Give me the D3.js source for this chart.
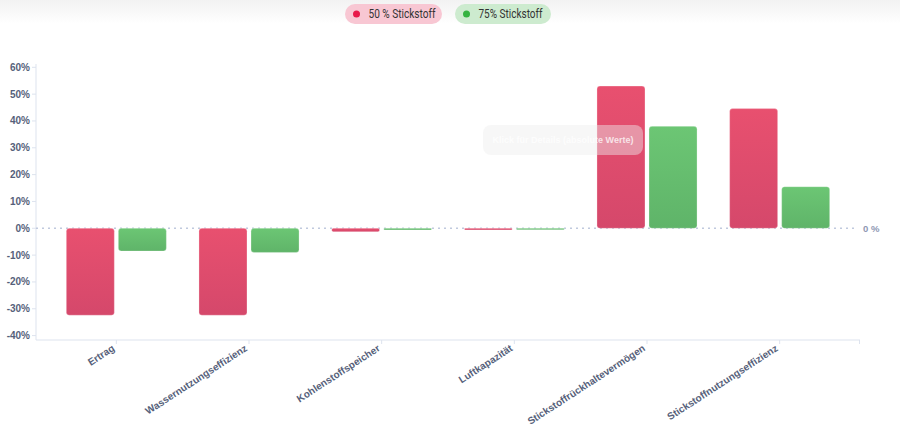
<!DOCTYPE html>
<html><head><meta charset="utf-8">
<script src="https://cdn.jsdelivr.net/npm/d3@7"></script>
<style>
html,body{margin:0;padding:0;background:#fff;}
svg{display:block;font-family:"Liberation Sans",Arial,sans-serif;}
</style></head>
<body>
<svg id="chart" width="900" height="440"></svg>
<script>
const categories = ["Ertrag","Wassernutzungseffizienz","Kohlenstoffspeicher","Luftkapazität","Stickstoffrückhaltevermögen","Stickstoffnutzungseffizienz"];
const seriesNames = ["50 % Stickstoff","75% Stickstoff"];
const values50 = [-32.4,-32.4,-1.3,-0.6,53.0,44.6];
const values75 = [-8.5,-9.0,-0.6,-0.5,38.0,15.5];
const yTicks = [60,50,40,30,20,10,0,-10,-20,-30,-40];

const svg = d3.select("#chart");
const defs = svg.append("defs");

// top fade
const tg = defs.append("linearGradient").attr("id","topfade").attr("x1",0).attr("x2",0).attr("y1",0).attr("y2",1);
tg.append("stop").attr("offset","0%").attr("stop-color","#f2f2f2");
tg.append("stop").attr("offset","100%").attr("stop-color","#ffffff");
svg.append("rect").attr("x",0).attr("y",0).attr("width",900).attr("height",24).attr("fill","url(#topfade)");

const colors = [{top:"#e8506f",bot:"#d5486b",id:"gRed",dot:"#e8194a",pill:"#f8c7d3"},
                {top:"#6cc674",bot:"#5fb469",id:"gGreen",dot:"#35b341",pill:"#cdebcf"}];
colors.forEach(c=>{
  const g = defs.append("linearGradient").attr("id",c.id).attr("x1",0).attr("x2",0).attr("y1",0).attr("y2",1);
  g.append("stop").attr("offset","0%").attr("stop-color",c.top);
  g.append("stop").attr("offset","100%").attr("stop-color",c.bot);
});

const x = d3.scaleBand().domain(categories).range([50,846]).padding(0);
const groupPad = 16.3;
const xs = d3.scaleBand().domain(seriesNames).range([groupPad, x.bandwidth()-groupPad]).paddingInner(0.0769).paddingOuter(0);
const y = d3.scaleLinear().domain([-40,60]).range([335.6,67.3]);

const axisColor = "#dde3ee";
const labelColor = "#565f7a";

// y axis
svg.append("line").attr("x1",36).attr("x2",36).attr("y1",64).attr("y2",340).attr("stroke",axisColor);
const yg = svg.append("g");
yTicks.forEach(t=>{
  yg.append("line").attr("x1",32).attr("x2",36).attr("y1",y(t)).attr("y2",y(t)).attr("stroke",axisColor);
  yg.append("text").attr("x",30).attr("y",y(t)).attr("dy","0.35em").attr("text-anchor","end")
    .attr("font-size",10).attr("font-weight","bold").attr("fill",labelColor).text(t+"%");
});

// zero line
svg.append("line").attr("x1",36).attr("x2",858).attr("y1",y(0)).attr("y2",y(0))
  .attr("stroke","#c0c9de").attr("stroke-width",1.4).attr("stroke-dasharray","2,4");
svg.append("text").attr("x",863).attr("y",y(0)).attr("dy","0.35em").attr("font-size",9.5)
  .attr("font-weight","bold").attr("fill","#8e97b3").text("0 %");

// x axis
svg.append("line").attr("x1",36).attr("x2",860).attr("y1",340).attr("y2",340).attr("stroke",axisColor);
categories.forEach(c=>{
  const cx = x(c)+x.bandwidth()/2;
  svg.append("line").attr("x1",cx).attr("x2",cx).attr("y1",340).attr("y2",344).attr("stroke",axisColor);
});
svg.append("line").attr("x1",859.5).attr("x2",859.5).attr("y1",340).attr("y2",344).attr("stroke",axisColor);
categories.forEach(c=>{
  const cx = x(c)+x.bandwidth()/2;
  svg.append("text").attr("transform",`translate(${cx-1},${350}) rotate(-33)`)
    .attr("text-anchor","end").attr("font-size",10).attr("font-weight","bold").attr("fill",labelColor).text(c);
});

// bars
const all = [values50, values75];
const barG = svg.append("g");
categories.forEach((c,i)=>{
  all.forEach((vals,s)=>{
    const v = vals[i];
    const y0 = y(Math.max(0,v)), y1 = y(Math.min(0,v));
    const h = Math.max(1.5, y1-y0);
    barG.append("rect").attr("x",x(c)+xs(seriesNames[s])).attr("y",y0)
      .attr("width",xs.bandwidth()).attr("height",h)
      .attr("rx",Math.min(3,h/2)).attr("fill",`url(#${colors[s].id})`)
      .attr("stroke","rgba(255,255,255,0.35)").attr("stroke-width",0.8);
  });
});

// faint hint box
const hint = svg.append("g");
hint.append("rect").attr("x",483).attr("y",125).attr("width",160).attr("height",30).attr("rx",8)
  .attr("fill","rgba(238,238,238,0.45)");
hint.append("text").attr("x",563).attr("y",140).attr("dy","0.35em").attr("text-anchor","middle")
  .attr("font-size",9).attr("font-weight","bold").attr("fill","rgba(255,255,255,0.75)").text("Klick für Details (absolute Werte)");

// legend
const legend = svg.append("g");
const legItems = [{x:345,w:97,tw:67},{x:455,w:96,tw:64}];
seriesNames.forEach((n,s)=>{
  const g = legend.append("g").attr("transform",`translate(${legItems[s].x},4)`);
  g.append("rect").attr("width",legItems[s].w).attr("height",20).attr("rx",10).attr("fill",colors[s].pill);
  g.append("circle").attr("cx",11.5).attr("cy",10).attr("r",3.5).attr("fill",colors[s].dot);
  g.append("text").attr("x",23.5).attr("y",10).attr("dy","0.35em").attr("font-size",12)
    .attr("font-family","'Liberation Sans Narrow','Roboto',sans-serif").attr("fill","#333")
    .attr("textLength",legItems[s].tw).attr("lengthAdjust","spacingAndGlyphs").text(n);
});
</script>
</body></html>
